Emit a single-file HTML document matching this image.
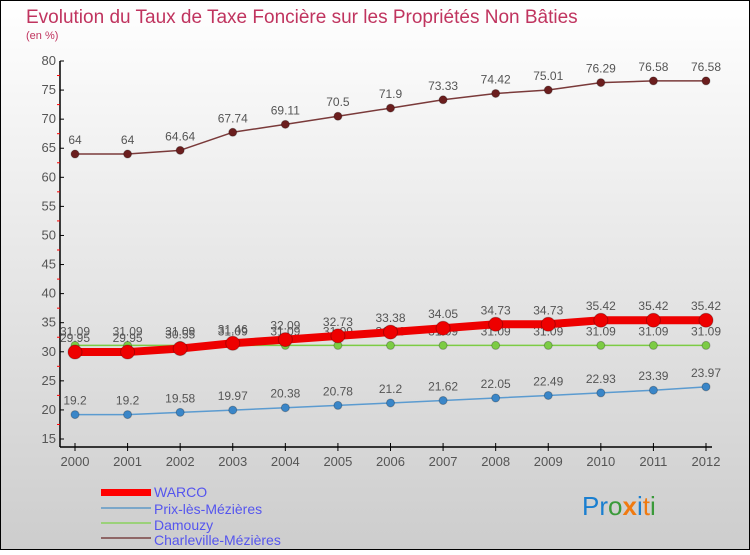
<!DOCTYPE html>
<html><head><meta charset="utf-8"><style>
html,body{margin:0;padding:0}
body{width:750px;height:550px;overflow:hidden;font-family:"Liberation Sans",sans-serif}
svg text{font-family:"Liberation Sans",sans-serif}
</style></head><body>
<svg width="750" height="550">
<defs><linearGradient id="bg" x1="0" y1="0" x2="0" y2="1"><stop offset="0" stop-color="#ffffff"/><stop offset="1" stop-color="#cdcdcd"/></linearGradient></defs>
<rect x="0.5" y="0.5" width="749" height="549" fill="url(#bg)" stroke="#000"/>
<text x="26" y="23" font-size="19" fill="#c0345f">Evolution du Taux de Taxe Foncière sur les Propriétés Non Bâties</text>
<text x="26" y="39" font-size="11" fill="#c0345f">(en %)</text>
<g id="axes"></g><g id="series"></g>
<g>
<rect x="101" y="489" width="50" height="7" fill="#f00"/>
<text x="154" y="497" font-size="14" fill="#5555ee">WARCO</text>
<line x1="101" y1="508" x2="151" y2="508" stroke="#7ba7c9" stroke-width="2"/>
<text x="154" y="514" font-size="14" fill="#5555ee">Prix-lès-Mézières</text>
<line x1="101" y1="523" x2="151" y2="523" stroke="#9bd17a" stroke-width="2"/>
<text x="154" y="530" font-size="14" fill="#5555ee">Damouzy</text>
<line x1="101" y1="538" x2="151" y2="538" stroke="#8e6666" stroke-width="2"/>
<text x="154" y="545" font-size="14" fill="#5555ee">Charleville-Mézières</text>
</g>
<text x="582" y="515" font-size="26"><tspan fill="#1a7fd0">Pr</tspan><tspan fill="#3a9a3a">o</tspan><tspan fill="#f07a10" font-weight="bold">x</tspan><tspan fill="#1a7fd0">i</tspan><tspan fill="#f07a10">t</tspan><tspan fill="#3a9a3a">i</tspan></text>
</svg>
<script>
const years=["2000","2001","2002","2003","2004","2005","2006","2007","2008","2009","2010","2011","2012"];
const yTicks=[15,20,25,30,35,40,45,50,55,60,65,70,75,80];
const warco=[29.95,29.95,30.55,31.46,32.09,32.73,33.38,34.05,34.73,34.73,35.42,35.42,35.42];
const prix=[19.2,19.2,19.58,19.97,20.38,20.78,21.2,21.62,22.05,22.49,22.93,23.39,23.97];
const damouzy=[31.09,31.09,31.09,31.09,31.09,31.09,31.09,31.09,31.09,31.09,31.09,31.09,31.09];
const charleville=[64,64,64.64,67.74,69.11,70.5,71.9,73.33,74.42,75.01,76.29,76.58,76.58];
const NS="http://www.w3.org/2000/svg";
const X=i=>75+i*(706-75)/12;
const Y=v=>439-(v-15)*(439-61)/65;
function mk(tag,attrs,parent,txt){const e=document.createElementNS(NS,tag);for(const k in attrs)e.setAttribute(k,attrs[k]);if(txt!==undefined)e.textContent=txt;parent.appendChild(e);return e;}
const ax=document.getElementById('axes');
let e=mk('line',{x1:60,y1:61,x2:60,y2:447,stroke:'#000','stroke-width':1.5},ax);


e=mk('line',{x1:60,y1:447,x2:712,y2:447,stroke:'#000','stroke-width':1.5},ax);


yTicks.forEach(v=>{
 mk('line',{x1:60,y1:Y(v),x2:64,y2:Y(v),stroke:'#000'},ax);
 if(v<80)mk('line',{x1:57,y1:Y(v+2.5),x2:60,y2:Y(v+2.5),stroke:'#f00'},ax);
 const t=mk('text',{x:56,y:Y(v)+4,'font-size':13,fill:'#555','text-anchor':'end'},ax,String(v));
 
 
});
years.forEach((y,i)=>{
 mk('line',{x1:X(i),y1:443,x2:X(i),y2:451,stroke:'#000'},ax);
 const t=mk('text',{x:X(i),y:466,'font-size':13,fill:'#555','text-anchor':'middle'},ax,y);
 
 
});
const sg=document.getElementById('series');
function series(vals,color,w,r,name,dot){
 const g=mk('g',{},sg);
 
 
 mk('polyline',{points:vals.map((v,i)=>X(i)+','+Y(v)).join(' '),fill:'none',stroke:color,'stroke-width':w,'stroke-linejoin':'round'},g);
 vals.forEach((v,i)=>{
  const c=mk('circle',{cx:X(i),cy:Y(v),r:r,fill:dot,stroke:'rgba(0,0,0,0.25)'},g);
  
  
  const t=mk('text',{x:X(i),y:Y(v)-10,'font-size':12,fill:'#555','text-anchor':'middle'},g,String(v));
  
  
 });
}
series(charleville,'#7a3a3a',1.5,4,'charleville-series','#6b1e1e');
series(prix,'#5b9bd0',1.5,4,'prix-series','#3a86c8');
series(damouzy,'#7ccc44',1.5,4,'damouzy-series','#7ccc44');
series(warco,'#ee0000',8,7,'warco-series','#ee0000');
</script>
</body></html>
